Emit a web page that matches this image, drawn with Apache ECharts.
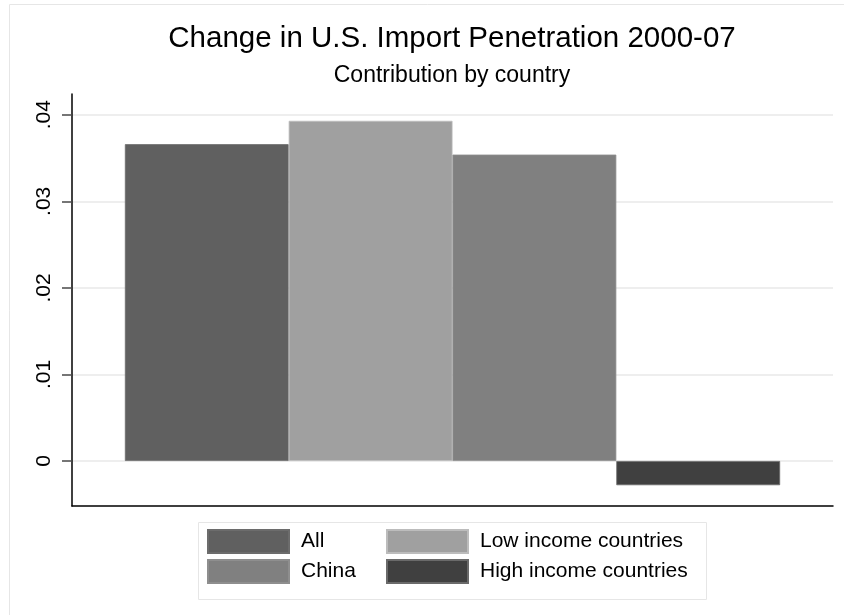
<!DOCTYPE html>
<html>
<head>
<meta charset="utf-8">
<script src="https://cdn.jsdelivr.net/npm/echarts@6/dist/echarts.min.js"></script>
<style>
html,body{margin:0;padding:0;background:#fff;}
#chart{width:844px;height:615px;}
</style>
</head>
<body>
<div id="chart"></div>
<script>
const categories = [''];
const seriesNames = ['All', 'Low income countries', 'China', 'High income countries'];
const allValues = [0.0366];
const lowIncomeValues = [0.0393];
const chinaValues = [0.0354];
const highIncomeValues = [-0.0028];
const yTickValues = [0, 0.01, 0.02, 0.03, 0.04];
const yTickLabels = ['0', '.01', '.02', '.03', '.04'];
const seriesColors = ['#606060', '#a0a0a0', '#808080', '#404040'];
const seriesBorders = ['#6c6c6c', '#bcbcbc', '#8e8e8e', '#6a6a6a'];
const titleText = 'Change in U.S. Import Penetration 2000-07';
const subtitleText = 'Contribution by country';

const valuesList = [allValues, lowIncomeValues, chinaValues, highIncomeValues];
const FONT = '"Liberation Sans", Arial, Helvetica, sans-serif';

const chart = echarts.init(document.getElementById('chart'), null, {renderer: 'canvas'});

function labelFor(v) {
  for (let i = 0; i < yTickValues.length; i++) {
    if (Math.abs(yTickValues[i] - v) < 1e-9) return yTickLabels[i];
  }
  return '';
}

const option = {
  animation: false,
  backgroundColor: '#ffffff',
  textStyle: {fontFamily: FONT},
  graphic: [
    {type: 'rect', z: -10, silent: true, shape: {x: 9.5, y: 4.5, width: 900, height: 700},
     style: {fill: 'none', stroke: '#e6e6e6', lineWidth: 1}},
    {type: 'rect', z: -5, silent: true, shape: {x: 198.5, y: 522.5, width: 508, height: 77},
     style: {fill: '#ffffff', stroke: '#e6e6e6', lineWidth: 1}},
    {type: 'text', x: 452, y: 24, silent: true,
     style: {text: titleText, fill: '#000', font: '29.5px ' + FONT, textAlign: 'center', textVerticalAlign: 'top'}},
    {type: 'text', x: 452, y: 64, silent: true,
     style: {text: subtitleText, fill: '#000', font: '23px ' + FONT, textAlign: 'center', textVerticalAlign: 'top'}}
  ],
  grid: {left: 72, right: 11, top: 94, bottom: 109, containLabel: false},
  legend: [
    {orient: 'vertical', left: 207, top: 529, padding: 0, itemWidth: 81, itemHeight: 23, itemGap: 5,
     icon: 'rect', data: [seriesNames[0], seriesNames[2]], selectedMode: false,
     textStyle: {fontSize: 21, color: '#000', fontFamily: FONT, padding: [0, 0, 0, 7]}},
    {orient: 'vertical', left: 386, top: 529, padding: 0, itemWidth: 81, itemHeight: 23, itemGap: 5,
     icon: 'rect', data: [seriesNames[1], seriesNames[3]], selectedMode: false,
     textStyle: {fontSize: 21, color: '#000', fontFamily: FONT, padding: [0, 0, 0, 7]}}
  ],
  xAxis: {
    type: 'category',
    data: categories,
    axisLine: {show: true, onZero: false, lineStyle: {color: '#000', width: 1.5}},
    axisTick: {show: false},
    axisLabel: {show: false},
    splitLine: {show: false}
  },
  yAxis: {
    type: 'value',
    min: -0.0052,
    max: 0.0424,
    axisLine: {show: true, lineStyle: {color: '#000', width: 1.5}},
    axisTick: {show: true, length: 10, customValues: yTickValues, lineStyle: {color: '#4a4a4a', width: 1.5}},
    axisLabel: {show: true, rotate: 90, margin: 17, customValues: yTickValues, formatter: labelFor,
                fontSize: 21, color: '#000', fontFamily: FONT},
    splitLine: {show: true, lineStyle: {color: '#e8e8e8', width: 1.5}}
  },
  series: seriesNames.map((name, i) => ({
    name: name,
    type: 'bar',
    data: valuesList[i],
    barGap: '0%',
    barCategoryGap: '13.9%',
    itemStyle: {color: seriesColors[i], borderColor: seriesBorders[i], borderWidth: 0.8},
    emphasis: {disabled: true},
    silent: true
  }))
};

chart.setOption(option);
</script>
</body>
</html>
